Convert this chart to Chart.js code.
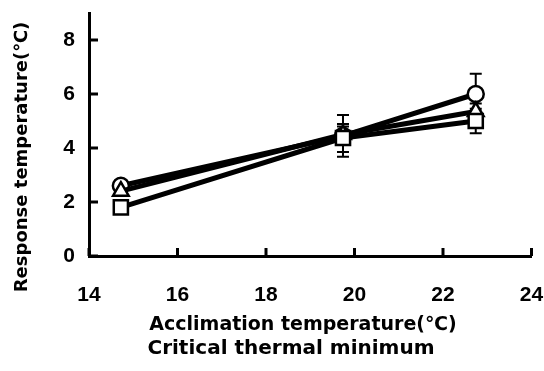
<!DOCTYPE html>
<html>
<head>
<meta charset="utf-8">
<script src="https://cdn.jsdelivr.net/npm/chart.js@4.4.1/dist/chart.umd.min.js"></script>
<style>
  html, body { margin: 0; padding: 0; background: #fff; }
  #wrap { width: 544px; height: 371px; }
</style>
</head>
<body>
<div id="wrap"><canvas id="grafico"></canvas></div>
<script>
// temperaturas de aclimatación (x) y respuesta media (y) por grupo
const aclimatacion = [14.72, 19.74, 22.74]
const circulos = [2.6, 4.45, 6.0]
const errCirculos = [0.1, 0.77, 0.75]
const triangulos = [2.4, 4.5, 5.35]
const errTriangulos = [0.1, 0.3, 0.3]
const cuadrados = [1.8, 4.37, 5.0]
const errCuadrados = [0.1, 0.52, 0.45]

const ticksX = [14, 16, 18, 20, 22, 24]
const ticksY = [0, 2, 4, 6, 8]

const tituloX = 'Acclimation temperature(℃)'
const tituloY = 'Response temperature(℃)'
const leyenda = 'Critical thermal minimum'

const fuente = "'Liberation Sans', 'Noto Sans CJK JP', sans-serif"
const fuenteTitulos = "'DejaVu Sans', 'Noto Sans CJK JP', sans-serif"

function serie(valores, estilo, radio) {
    return {
        data: aclimatacion.map((x, i) => ({ x: x, y: valores[i] })),
        borderColor: '#000',
        borderWidth: 5,
        pointStyle: estilo,
        pointRadius: radio,
        pointBorderWidth: 2.5,
        pointBackgroundColor: '#fff',
        pointBorderColor: '#000',
        showLine: true,
        tension: 0
    }
}

const grupos = [
    { valores: circulos, errores: errCirculos },
    { valores: triangulos, errores: errTriangulos },
    { valores: cuadrados, errores: errCuadrados }
]

// sin relleno extra alrededor de las escalas
function sinRelleno(s) {
    s.paddingTop = 0
    s.paddingBottom = 0
    s.paddingLeft = 0
    s.paddingRight = 0
}

// barras de error debajo de los marcadores
const barrasError = {
    id: 'barrasError',
    beforeDatasetsDraw(chart) {
        const ctx = chart.ctx
        const sx = chart.scales.x
        const sy = chart.scales.y
        ctx.save()
        ctx.strokeStyle = '#000'
        ctx.lineWidth = 2
        grupos.forEach(g => {
            g.valores.forEach((v, i) => {
                const px = sx.getPixelForValue(aclimatacion[i])
                const arriba = sy.getPixelForValue(v + g.errores[i])
                const abajo = sy.getPixelForValue(v - g.errores[i])
                ctx.beginPath()
                ctx.moveTo(px, arriba)
                ctx.lineTo(px, abajo)
                ctx.moveTo(px - 6, arriba)
                ctx.lineTo(px + 6, arriba)
                ctx.moveTo(px - 6, abajo)
                ctx.lineTo(px + 6, abajo)
                ctx.stroke()
            })
        })
        ctx.restore()
    }
}

// marcas de los ejes hacia adentro y textos de los títulos
const ejesYTitulos = {
    id: 'ejesYTitulos',
    afterDraw(chart) {
        const ctx = chart.ctx
        const sx = chart.scales.x
        const sy = chart.scales.y
        const area = chart.chartArea
        ctx.save()
        ctx.strokeStyle = '#000'
        ctx.lineWidth = 3
        ticksX.forEach(t => {
            const px = sx.getPixelForValue(t)
            ctx.beginPath()
            ctx.moveTo(px, area.bottom)
            ctx.lineTo(px, area.bottom - 8)
            ctx.stroke()
        })
        ticksY.forEach(t => {
            const py = sy.getPixelForValue(t)
            ctx.beginPath()
            ctx.moveTo(area.left, py)
            ctx.lineTo(area.left + 9, py)
            ctx.stroke()
        })

        ctx.fillStyle = '#000'
        ctx.textAlign = 'center'
        ctx.textBaseline = 'middle'
        ctx.font = 'bold 19px ' + fuenteTitulos
        ctx.fillText(tituloX, 303, 325)
        ctx.font = 'bold 20px ' + fuenteTitulos
        ctx.fillText(leyenda, 291, 349)

        ctx.translate(22, 157)
        ctx.rotate(-Math.PI / 2)
        ctx.font = 'bold 18px ' + fuenteTitulos
        ctx.fillText(tituloY, 0, 0)
        ctx.restore()
    }
}

// el primer conjunto queda dibujado encima
new Chart(document.getElementById('grafico'), {
    type: 'scatter',
    data: {
        datasets: [
            serie(cuadrados, 'rect', 10),
            serie(triangulos, 'triangle', 9),
            serie(circulos, 'circle', 8)
        ]
    },
    options: {
        responsive: true,
        maintainAspectRatio: false,
        animation: false,
        layout: { padding: { top: 13, right: 10, left: 0, bottom: 0 } },
        plugins: {
            legend: { display: false },
            tooltip: { enabled: false }
        },
        scales: {
            x: {
                type: 'linear',
                min: 14,
                max: 24,
                afterBuildTicks: s => { s.ticks = ticksX.map(v => ({ value: v })) },
                afterFit: s => { s.height = 115; sinRelleno(s) },
                grid: { display: false, drawTicks: false },
                border: { color: '#000', width: 3 },
                ticks: {
                    padding: 27,
                    maxRotation: 0,
                    color: '#000',
                    font: { family: fuente, size: 21, weight: 'bold' }
                }
            },
            y: {
                type: 'linear',
                min: 0,
                max: 9,
                afterBuildTicks: s => { s.ticks = ticksY.map(v => ({ value: v })) },
                afterFit: s => { s.width = 89; sinRelleno(s) },
                grid: { display: false, drawTicks: false },
                border: { color: '#000', width: 3 },
                ticks: {
                    padding: 14,
                    color: '#000',
                    font: { family: fuente, size: 21, weight: 'bold' }
                }
            }
        }
    },
    plugins: [barrasError, ejesYTitulos]
})
</script>
</body>
</html>
